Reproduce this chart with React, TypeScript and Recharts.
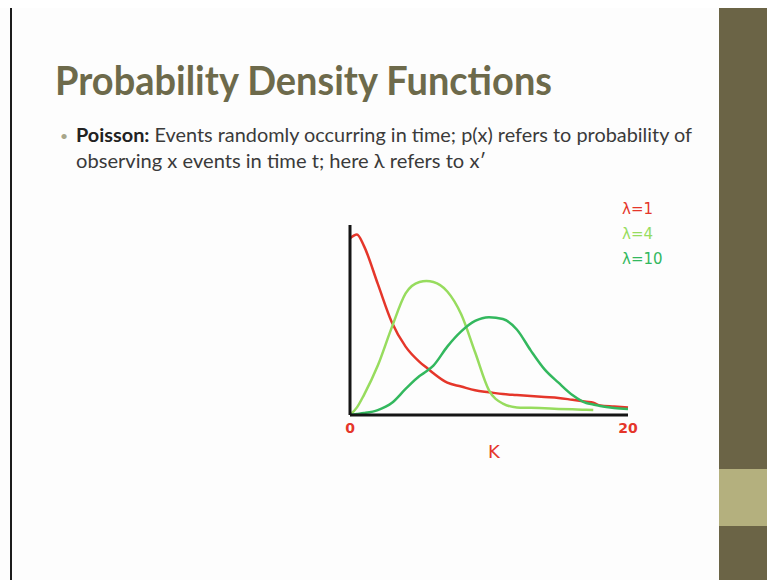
import React from 'react';
import { LineChart, Line, XAxis, YAxis } from 'recharts';

// k values shared by all three curves
const kValues = [0, 0.5, 1, 2, 3, 4, 5, 5.5, 6, 7, 8, 9, 10, 11, 12, 13, 14, 15, 16, 17, 17.5, 18, 19, 20];

// sketched Poisson shapes (relative height, 0-100)
const lambda1 = [93, 95, 89, 69, 49, 36, 28, 25, 22, 17, 15, 13, 12, 11, 10.5, 10, 9.5, 9, 8, 7, 6.5, 5, 4.5, 4];
const lambda4 = [0, 4, 10.5, 26, 46, 64, 70, 70.5, 70, 65, 53, 33, 13, 6, 4, 3.8, 3.5, 3.2, 3, 2.8, 2.6, null, null, null];
const lambda10 = [0, 0.5, 1, 2.6, 6.3, 13.7, 20.5, 23, 26, 36, 44, 49.5, 51.5, 50.5, 45, 34, 24, 17, 10.5, 6.3, 5.5, 4.7, 3.7, 3.2];

const xTicks = [0, 20];

const series = [
  { key: 'l1', name: '1', color: '#e5362a', values: lambda1 },
  { key: 'l4', name: '4', color: '#97dc5e', values: lambda4 },
  { key: 'l10', name: '10', color: '#33b85e', values: lambda10 },
];

const data = kValues.map((k, i) => {
  const row: Record<string, number | null> = { k };
  series.forEach((s) => {
    row[s.key] = s.values[i];
  });
  return row;
});

const handFont = '"DejaVu Sans", sans-serif';
const slideFont = 'Lato, "Open Sans", sans-serif';

// lambda key, placed top-right of the plot
const LambdaLegend = () => (
  <div
    style={{
      position: 'absolute',
      left: 622,
      top: 197,
      fontFamily: handFont,
      fontSize: 15,
      lineHeight: '25px',
    }}
  >
    {series.map((s) => (
      <div key={s.key} style={{ color: s.color }}>
        λ={s.name}
      </div>
    ))}
  </div>
);

const SlideText = () => (
  <svg width={767} height={580} style={{ position: 'absolute', left: 0, top: 0 }}>
    <rect x={0} y={0} width={767} height={580} fill="#fdfdfd" />
    <rect x={0} y={0} width={767} height={8} fill="#ffffff" />
    <line x1={11} y1={8} x2={11} y2={580} stroke="#1c1c1c" strokeWidth={2} />
    <rect x={719} y={8} width={48} height={572} fill="#6b6446" />
    <rect x={719} y={469} width={48} height={57} fill="#b4b07e" />
    <text
      x={55}
      y={95}
      fontFamily={slideFont}
      fontWeight={700}
      fontSize={40}
      fill="#6d6a4b"
      textLength={497}
      lengthAdjust="spacingAndGlyphs"
    >
      Probability Density Functions
    </text>
    <text x={60} y={141} fontFamily={slideFont} fontSize={14} fill="#a8a68a">•</text>
    <text
      x={76}
      y={142}
      fontFamily={slideFont}
      fontSize={19}
      fill="#3a3a3a"
      textLength={616}
      lengthAdjust="spacingAndGlyphs"
    >
      <tspan fontWeight={700} fill="#222">Poisson:</tspan> Events randomly occurring in time; p(x) refers to probability of
    </text>
    <text
      x={76}
      y={168}
      fontFamily={slideFont}
      fontSize={19}
      fill="#3a3a3a"
      textLength={410}
      lengthAdjust="spacingAndGlyphs"
    >
      observing x events in time t; here λ refers to x′
    </text>
  </svg>
);

export default function App() {
  return (
    <div style={{ position: 'absolute', left: 0, top: 0, width: 767, height: 580, overflow: 'hidden' }}>
      <SlideText />
      <div style={{ position: 'absolute', left: 0, top: 0 }}>
        <LineChart width={767} height={580} data={data} margin={{ top: 225, right: 139, bottom: 135, left: 340 }}>
          <XAxis
            dataKey="k"
            type="number"
            domain={[0, 20]}
            ticks={xTicks}
            height={30}
            axisLine={{ stroke: '#151515', strokeWidth: 3 }}
            tickLine={false}
            tick={{ fill: '#e5362a', fontSize: 14, fontWeight: 700, fontFamily: handFont }}
            label={{ value: 'K', position: 'bottom', offset: 0, dx: 5, fill: '#e5362a', fontSize: 18, fontFamily: handFont }}
          />
          <YAxis
            type="number"
            domain={[0, 100]}
            width={10}
            tick={false}
            tickLine={false}
            axisLine={{ stroke: '#151515', strokeWidth: 3 }}
          />
          {series.map((s) => (
            <Line
              key={s.key}
              dataKey={s.key}
              name={s.name}
              type="monotone"
              stroke={s.color}
              strokeWidth={2.5}
              dot={false}
              isAnimationActive={false}
            />
          ))}
        </LineChart>
      </div>
      <LambdaLegend />
    </div>
  );
}
